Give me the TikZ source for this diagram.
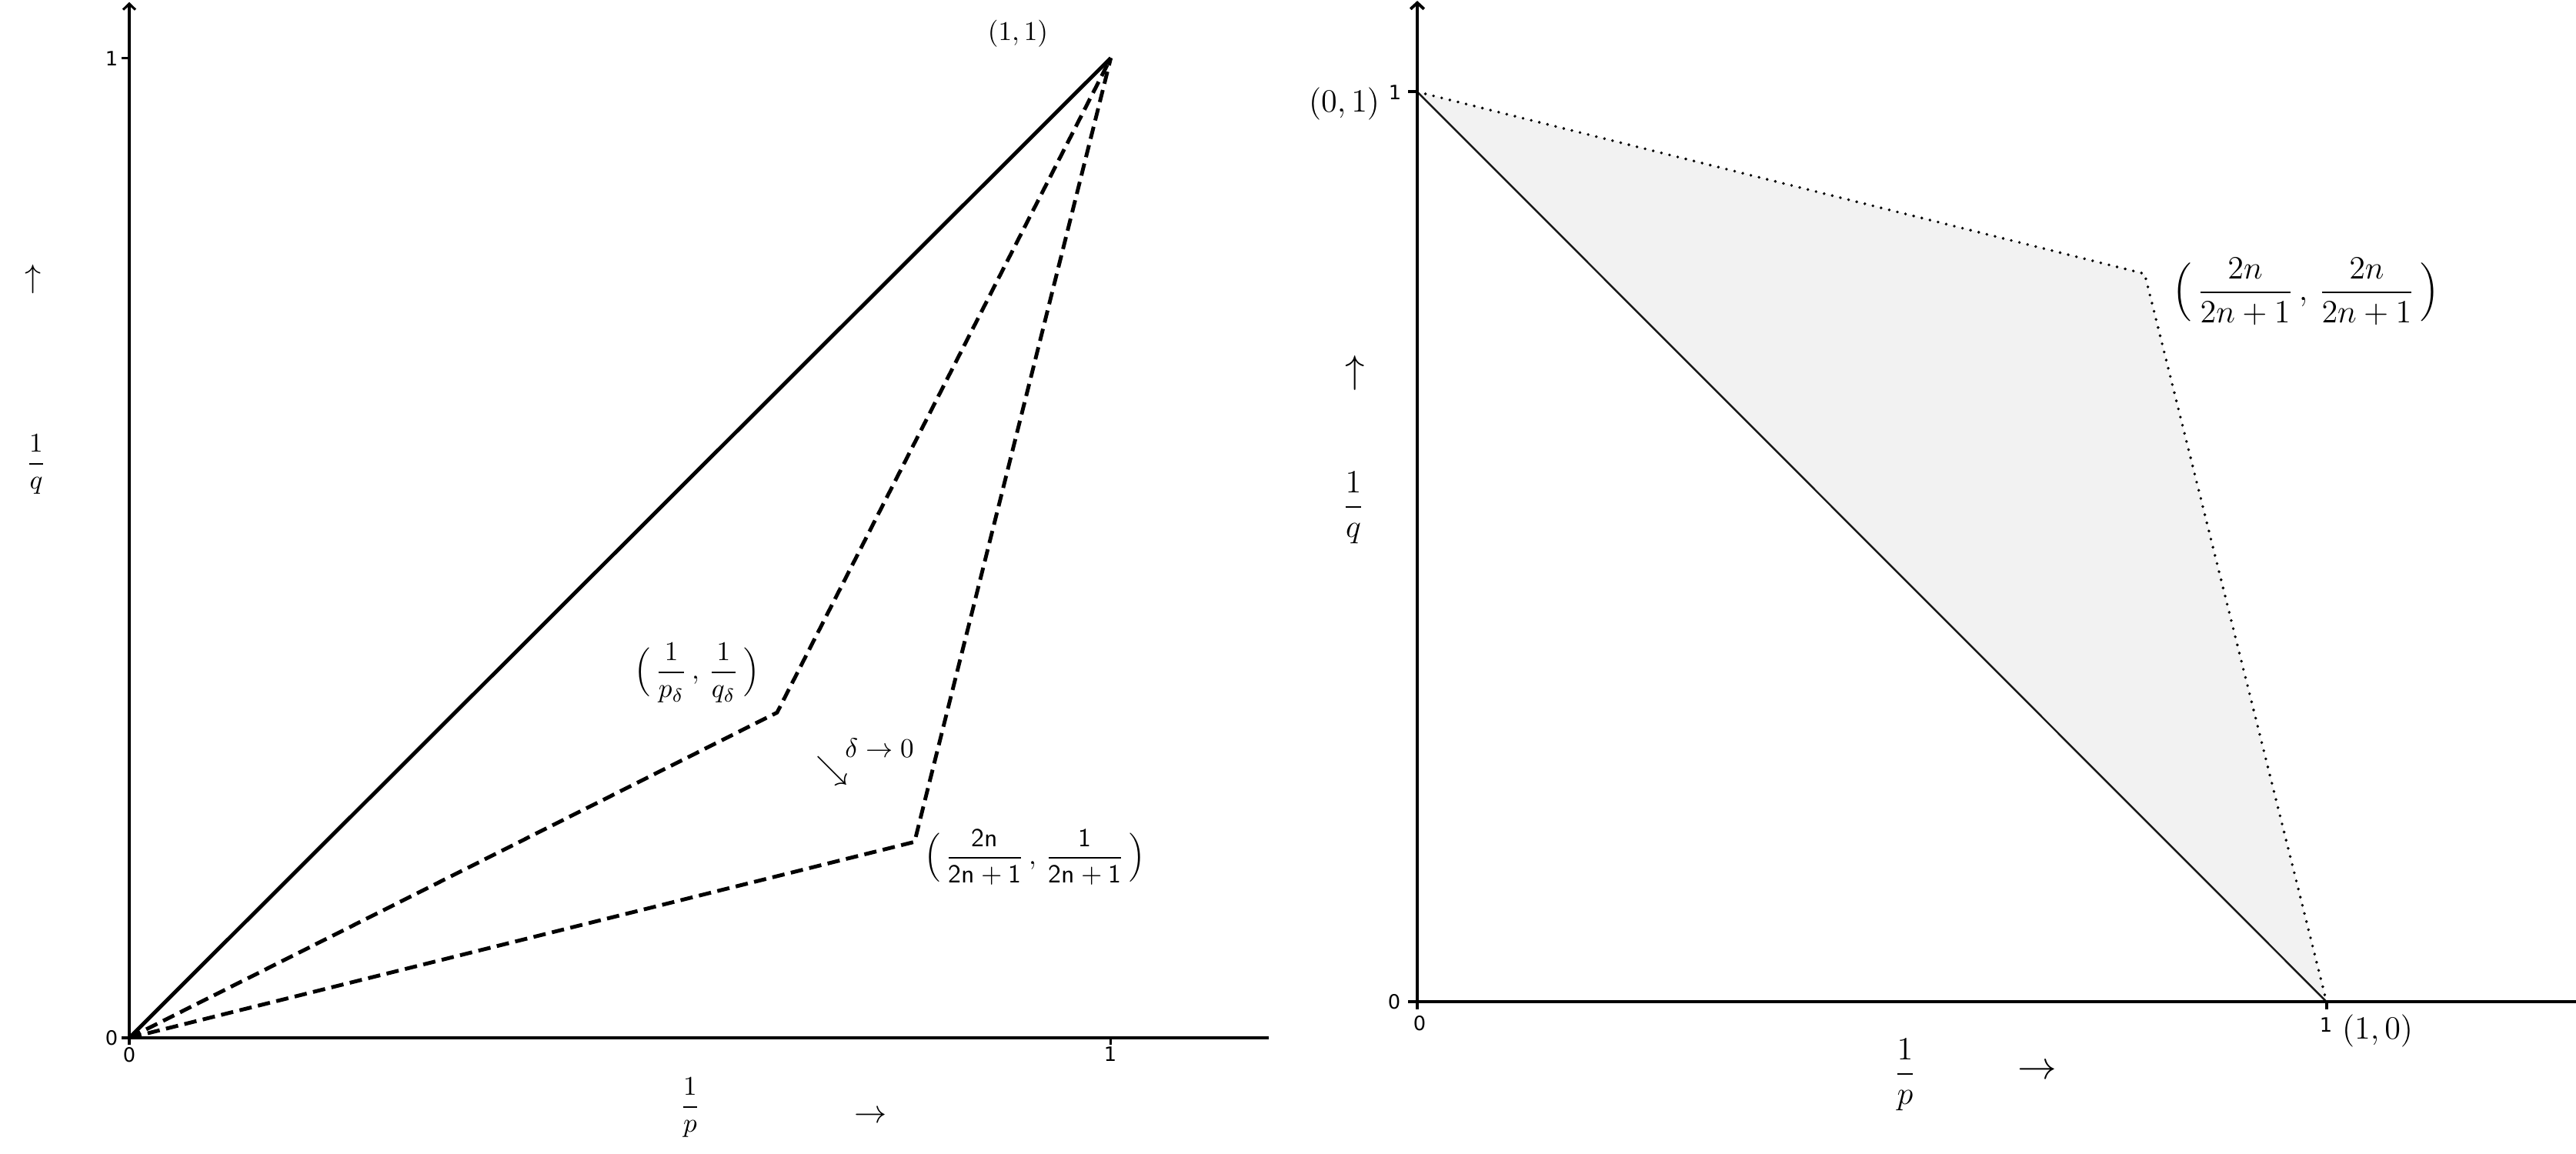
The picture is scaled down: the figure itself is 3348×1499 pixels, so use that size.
\documentclass[tikz,border=0pt]{standalone}
\usepackage{amsmath}
\usepackage{fontspec}
\newfontfamily\tickfont{DejaVu Sans}
\usetikzlibrary{arrows.meta}
\begin{document}
\begin{tikzpicture}[x=0.01cm,y=-0.01cm,
  laxis/.style={line width=0.9pt},
  raxis/.style={line width=1.1pt},
  ltip/.style={-{Straight Barb[length=2.2pt,width=4.5pt,line width=0.9pt]}},
  rtip/.style={-{Straight Barb[length=2.3pt,width=5pt,line width=1.1pt]}},
  solidline/.style={line width=1.4pt},
  dashline/.style={line width=1.4pt,dash pattern=on 4.6pt off 2.4pt},
  dotline/.style={line width=1.1pt,line cap=round,dash pattern=on 0pt off 3.1pt},
  ticklbl/.style={font=\tickfont\fontsize{7.3}{8}\selectfont,inner sep=0pt},
  lbl/.style={font=\fontsize{9.6}{11}\selectfont,inner sep=0pt},
  larr/.style={font=\fontsize{11.5}{13}\selectfont,inner sep=0pt},
  rlbl/.style={font=\fontsize{12.5}{14}\selectfont,inner sep=0pt},
  rarr/.style={font=\fontsize{15}{17}\selectfont,inner sep=0pt}]
\useasboundingbox (0,0) rectangle (3348,1499);
% ---------------- left panel ----------------
\begin{scope}[shift={(168,1349)},x=12.75cm,y=12.73cm]
  \coordinate (LO) at (0,0);
  \coordinate (L11) at (1,1);
  \coordinate (Ld) at (0.66,0.332);
  \coordinate (Le) at (0.8,0.2);
  \coordinate (Lytop) at (0,1.057);
  \coordinate (Lxend) at (1.161,0);
  \coordinate (Ly1) at (0,1);
  \coordinate (Lx1) at (1,0);
  \draw[laxis,ltip] (LO) -- (Lytop);
  \draw[laxis] (LO) -- (Lxend);
  \draw[laxis] (LO) -- ++(-0.1cm,0);
  \draw[laxis] (Ly1) -- ++(-0.1cm,0);
  \draw[laxis] (LO) -- ++(0,-0.09cm);
  \draw[laxis] (Lx1) -- ++(0,-0.09cm);
  \draw[solidline] (LO) -- (L11);
  \draw[dashline] (LO) -- (Ld) -- (L11);
  \draw[dashline] (LO) -- (Le) -- (L11);
\end{scope}
\node[ticklbl] (lt0y) at (145,1349) {0};
\node[ticklbl] (lt0x) at (168,1371) {0};
\node[ticklbl] (lt1y) at (145,76) {1};
\node[ticklbl] (lt1x) at (1443,1370) {1};
\node[lbl] (l11) at (1323,44) {$(1,1)$};
\node[lbl] (lpd) at (906,875) {$\Bigl(\,\dfrac{1}{p_\delta}\,,\,\dfrac{1}{q_\delta}\,\Bigr)$};
\node[lbl] (ldelta) at (1143,972) {$\delta\to0$};
\node[larr] (lse) at (1082,1002) {$\searrow$};
\node[lbl] (l2n) at (1345,1114) {$\Bigl(\,\dfrac{\mathsf{2n}}{\mathsf{2n}+\mathsf{1}}\,,\,\dfrac{\mathsf{1}}{\mathsf{2n}+\mathsf{1}}\,\Bigr)$};
\node[larr] (lup) at (43,363) {$\uparrow$};
\node[lbl] (lq) at (47,604) {$\dfrac{1}{q}$};
\node[lbl] (lp) at (897,1440) {$\dfrac{1}{p}$};
\node[larr] (lright) at (1132,1452) {$\rightarrow$};
% ---------------- right panel ----------------
\begin{scope}[shift={(1842,1302)},x=11.81cm,y=11.82cm]
  \coordinate (RO) at (0,0);
  \coordinate (R01) at (0,1);
  \coordinate (R10) at (1,0);
  \coordinate (Rv) at (0.8,0.8);
  \coordinate (Rytop) at (0,1.1);
  \coordinate (Rxend) at (1.275,0);
  \fill[black!5] (R01) -- (Rv) -- (R10) -- cycle;
  \draw[dotline] (R01) -- (Rv) -- (R10);
  \draw[line width=0.7pt,black!90] (R01) -- (R10);
  \draw[raxis,rtip] (RO) -- (Rytop);
  \draw[raxis] (RO) -- (Rxend);
  \draw[raxis] (RO) -- ++(-0.12cm,0);
  \draw[raxis] (R01) -- ++(-0.12cm,0);
  \draw[raxis] (RO) -- ++(0,-0.1cm);
  \draw[raxis] (R10) -- ++(0,-0.1cm);
\end{scope}
\node[ticklbl] (rt0y) at (1812,1302) {0};
\node[ticklbl] (rt0x) at (1845,1330) {0};
\node[ticklbl] (rt1y) at (1813,120) {1};
\node[ticklbl] (rt1x) at (3023,1332) {1};
\node[rlbl] (r01) at (1747,135) {$(0,1)$};
\node[rlbl] (r10) at (3090,1340) {$(1,0)$};
\node[rlbl] (rv) at (2997,379) {$\Bigl(\,\dfrac{2n}{2n+1}\,,\,\dfrac{2n}{2n+1}\,\Bigr)$};
\node[rarr] (rup) at (1761,485) {$\uparrow$};
\node[rlbl] (rq) at (1759,660) {$\dfrac{1}{q}$};
\node[rlbl] (rp) at (2476,1397) {$\dfrac{1}{p}$};
\node[rarr] (rright) at (2648,1393) {$\rightarrow$};
\end{tikzpicture}
\end{document}
